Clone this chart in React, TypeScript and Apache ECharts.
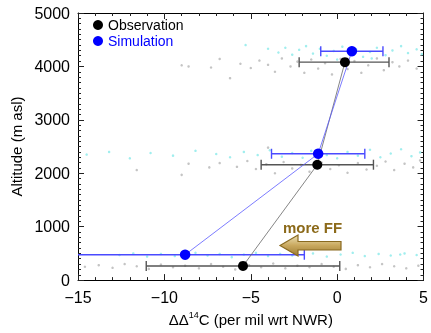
import React, { useEffect, useRef } from "react";
import * as echarts from "echarts";

// Mean values (x = ΔΔ14C, y = altitude)
const obsAlt = [265, 2160, 4080];
const obsVal = [-5.45, -1.15, 0.45];
const obsLo = [-11.05, -4.4, -2.2];
const obsHi = [0.15, 2.1, 3.0];

const simAlt = [475, 2365, 4285];
const simVal = [-8.8, -1.1, 0.85];
const simLo = [-16, -3.8, -0.95];
const simHi = [-1.9, 1.6, 2.65];

// Individual samples (faint clouds)
const greyTop = [[-9.0,4020],[-8.6,4000],[-7.3,3980],[-6.8,4140],[-6.2,3780],[-5.6,4050],[-5.0,3970],[-4.5,4110],[-4.0,4030],[-3.6,3900],[-3.2,4150],[-2.7,4000],[-2.3,4090],[-1.9,3880],[-1.5,4130],[-1.1,3960],[-0.7,4060],[-0.3,3850],[0.2,4140],[0.6,3950],[1.0,4100],[1.4,3880],[1.8,4020],[2.3,4150],[2.7,3930],[3.2,4080],[3.6,4000],[4.1,4110],[4.6,3960]];
const cyanTop = [[-5.3,4400],[-4.0,4330],[-3.4,4260],[-3.0,4350],[-2.6,4220],[-2.2,4310],[-1.8,4380],[-1.4,4240],[-1.0,4330],[-0.6,4200],[-0.2,4290],[0.3,4370],[0.7,4230],[1.1,4320],[1.5,4180],[1.9,4270],[2.3,4350],[2.8,4210],[3.2,4300],[3.7,4380],[4.1,4250],[4.6,4320],[4.9,4230],[0.0,4130],[2.0,4150]];
const greyMid = [[-11.6,2060],[-9.0,1970],[-8.6,2180],[-7.4,2110],[-6.8,2190],[-5.8,2120],[-5.2,2230],[-4.7,2080],[-4.1,2170],[-3.6,2000],[-3.1,2210],[-2.6,2090],[-2.1,2160],[-1.6,2030],[-0.9,2200],[-0.4,2080],[0.1,2150],[0.6,2010],[1.2,2190],[1.7,2070],[2.3,2140],[2.8,2220],[3.3,2060],[3.9,2180],[4.4,2110],[4.8,2240],[-4.0,2480]];
const cyanMid = [[-14.5,2350],[-13.2,2400],[-12.0,2280],[-10.8,2380],[-9.5,2330],[-8.2,2420],[-7.0,2360],[-6.2,2300],[-5.4,2400],[-4.6,2340],[-3.9,2430],[-3.2,2310],[-2.6,2380],[-2.0,2290],[-1.5,2420],[-0.6,2340],[0.0,2280],[0.6,2400],[1.2,2330],[1.9,2440],[2.5,2300],[3.1,2370],[3.7,2450],[4.3,2320],[4.8,2390]];
const greyBot = [[-14.6,250],[-13.8,280],[-13.0,230],[-12.3,300],[-11.6,260],[-10.9,210],[-10.2,290],[-9.5,240],[-8.8,270],[-8.0,220],[-7.3,300],[-6.6,250],[-5.9,200],[-5.1,280],[-4.4,240],[-3.7,310],[-3.0,220],[-2.3,270],[-1.6,240],[-0.9,300],[-0.2,250],[0.5,210],[1.2,280],[1.9,240],[2.6,300],[3.3,260],[4.0,220],[4.7,270]];
const cyanBot = [[-12.6,470],[-11.8,500],[-11.0,440],[-10.2,490],[-9.4,450],[-8.2,510],[-7.5,460],[-6.8,490],[-6.1,430],[-5.4,480],[-4.7,510],[-4.0,450],[-3.3,490],[-2.6,460],[-1.4,500],[-0.6,440],[0.2,480],[0.9,510],[1.6,450],[2.4,490],[3.1,460],[3.9,500],[4.6,470],[3.65,480]];

const xTicks = { min: -15, max: 5, interval: 5 };
const yTicks = { min: 0, max: 5000, interval: 1000 };

const FONT = "Liberation Sans, Arial, Helvetica, sans-serif";

function errData(lo: number[], hi: number[], alt: number[]) {
  return alt.map((a, i) => [lo[i], hi[i], a]);
}

function errSeries(name: string, data: number[][], color: string) {
  return {
    type: "custom",
    name: name + "_err",
    clip: true,
    z: 3,
    encode: { x: [0, 1], y: 2 },
    data,
    renderItem: (params: any, api: any) => {
      const p1 = api.coord([api.value(0), api.value(2)]);
      const p2 = api.coord([api.value(1), api.value(2)]);
      const c = 5;
      const style = { stroke: color, lineWidth: 1.4 };
      return {
        type: "group",
        children: [
          { type: "line", shape: { x1: p1[0], y1: p1[1], x2: p2[0], y2: p2[1] }, style },
          { type: "line", shape: { x1: p1[0], y1: p1[1] - c, x2: p1[0], y2: p1[1] + c }, style },
          { type: "line", shape: { x1: p2[0], y1: p2[1] - c, x2: p2[0], y2: p2[1] + c }, style },
        ],
      };
    },
  };
}

function cloud(data: number[][], color: string) {
  return {
    type: "scatter",
    data,
    symbolSize: 2.5,
    itemStyle: { color, opacity: 1 },
    silent: true,
    z: 1,
  };
}

export default function App() {
  const ref = useRef<HTMLDivElement>(null);
  useEffect(() => {
    if (!ref.current) return;
    const chart = echarts.init(ref.current, null, { renderer: "svg" });
    const axisCommon = {
      axisLine: { show: true, onZero: false, lineStyle: { color: "#000", width: 1 } },
      axisTick: { show: true, inside: true, length: 6, lineStyle: { color: "#222" } },
      minorTick: { show: true, length: 3, lineStyle: { color: "#222" } },
      splitLine: { show: false },
    };
    const fmt = (v: number) => String(v).replace("-", "\u2212");
    chart.setOption({
      animation: false,
      grid: { left: 78, right: 6, top: 13, bottom: 49 },
      legend: {
        left: 93,
        top: 18,
        orient: "vertical",
        padding: 0,
        itemWidth: 10,
        itemHeight: 10,
        itemGap: 2,
        icon: "circle",
        textStyle: { fontSize: 14, fontFamily: FONT, lineHeight: 14 },
        data: [
          { name: "Observation", textStyle: { color: "#000" } },
          { name: "Simulation", textStyle: { color: "#0000ff" } },
        ],
      },
      xAxis: [
        {
          type: "value",
          position: "bottom",
          ...xTicks,
          ...axisCommon,
          minorTick: { ...axisCommon.minorTick, splitNumber: 5 },
          axisLabel: { fontSize: 16, color: "#000", fontFamily: FONT, margin: 9, formatter: fmt },
          name: "\u0394\u0394{sup|14}C (per mil wrt NWR)",
          nameLocation: "middle",
          nameGap: 27,
          nameTextStyle: {
            fontSize: 15,
            color: "#000",
            fontFamily: FONT,
            lineHeight: 18,
            rich: { sup: { fontSize: 9, verticalAlign: "top", lineHeight: 12, fontFamily: FONT, color: "#000" } },
          },
        },
        {
          type: "value",
          position: "top",
          ...xTicks,
          ...axisCommon,
          minorTick: { ...axisCommon.minorTick, splitNumber: 5 },
          axisLabel: { show: false },
        },
      ],
      yAxis: [
        {
          type: "value",
          position: "left",
          ...yTicks,
          ...axisCommon,
          minorTick: { ...axisCommon.minorTick, splitNumber: 10 },
          axisLabel: { fontSize: 16, color: "#000", fontFamily: FONT, margin: 8, formatter: (v: number) => String(v) },
          name: "Altitude (m asl)",
          nameLocation: "middle",
          nameGap: 50,
          nameTextStyle: { fontSize: 15, color: "#000", fontFamily: FONT },
        },
        {
          type: "value",
          position: "right",
          ...yTicks,
          ...axisCommon,
          minorTick: { ...axisCommon.minorTick, splitNumber: 10 },
          axisLabel: { show: false },
        },
      ],
      series: [
        cloud(greyTop, "#c4c4c4"),
        cloud(greyMid, "#c4c4c4"),
        cloud(greyBot, "#c4c4c4"),
        cloud(cyanTop, "#a0eeee"),
        cloud(cyanMid, "#a0eeee"),
        cloud(cyanBot, "#a0eeee"),
        errSeries("Observation", errData(obsLo, obsHi, obsAlt), "#555555"),
        errSeries("Simulation", errData(simLo, simHi, simAlt), "#4a4aff"),
        {
          type: "line",
          data: obsAlt.map((a, i) => [obsVal[i], a]),
          symbol: "none",
          lineStyle: { color: "#666", width: 0.8 },
          z: 4,
          silent: true,
        },
        {
          type: "line",
          data: simAlt.map((a, i) => [simVal[i], a]),
          symbol: "none",
          lineStyle: { color: "#5a5aff", width: 0.8 },
          z: 4,
          silent: true,
        },
        {
          type: "scatter",
          name: "Observation",
          data: obsAlt.map((a, i) => [obsVal[i], a]),
          symbolSize: 10,
          itemStyle: { color: "#000", opacity: 1 },
          z: 5,
        },
        {
          type: "scatter",
          name: "Simulation",
          data: simAlt.map((a, i) => [simVal[i], a]),
          symbolSize: 10.5,
          itemStyle: { color: "#0000ff", opacity: 1 },
          z: 5,
        },
      ],
      graphic: [
        {
          type: "polygon",
          z: 10,
          shape: {
            points: [[280, 245.5], [298, 235], [298, 241.5], [341, 241.5], [341, 250], [298, 250], [298, 256]],
          },
          style: {
            fill: new echarts.graphic.LinearGradient(0, 0, 0, 1, [
              { offset: 0, color: "#ece0b4" },
              { offset: 0.5, color: "#c9a85e" },
              { offset: 1, color: "#9c7c34" },
            ]),
            stroke: "#8a6a20",
            lineWidth: 1.2,
          },
        },
        {
          type: "text",
          z: 10,
          x: 283,
          y: 227,
          style: {
            text: "more FF",
            fontSize: 15,
            fontWeight: "bold",
            fontFamily: FONT,
            fill: "#8c6a1a",
            verticalAlign: "middle",
          },
        },
      ],
    });
    return () => chart.dispose();
  }, []);
  return <div ref={ref} style={{ position: "fixed", left: 0, top: 0, width: 431, height: 333 }} />;
}
